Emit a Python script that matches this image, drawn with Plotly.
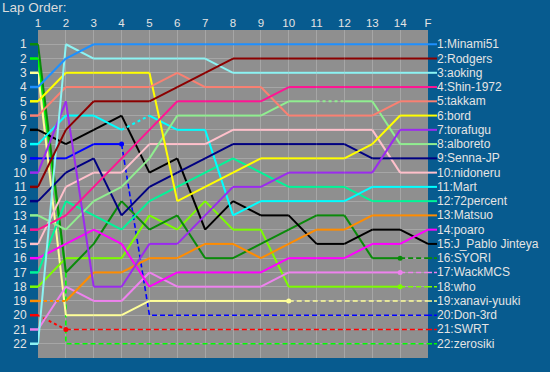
import plotly.graph_objects as go

# ---------------- data ----------------
lap_labels = ["1", "2", "3", "4", "5", "6", "7", "8", "9", "10", "11", "12", "13", "14", "F"]
grid_labels = ["1", "2", "3", "4", "5", "6", "7", "8", "9", "10", "11",
               "12", "13", "14", "15", "16", "17", "18", "19", "20", "21", "22"]

names = ["Minami51", "Rodgers", "aoking", "Shin-1972", "takkam", "bord", "torafugu",
         "alboreto", "Senna-JP", "nidoneru", "Mart", "72percent", "Matsuo", "poaro",
         "J_Pablo Jinteya", "SYORI", "WackMCS", "who", "xanavi-yuuki", "Don-3rd",
         "SWRT", "zerosiki"]

colors = ["#1E90FF", "#8B0000", "#8CF3F3", "#FF1493", "#FA8072", "#FFFF00", "#9B2BEE",
          "#90EE90", "#000080", "#FFC0CB", "#00FFFF", "#00F598", "#FF8C00", "#FF00FF",
          "#000000", "#0A8A0A", "#EE82EE", "#7CFC00", "#FFFF99", "#0000FF",
          "#FF0000", "#00FF00"]

# positions at laps 1..14, F
minami51 = [4, 2, 1, 1, 1, 1, 1, 1, 1, 1, 1, 1, 1, 1, 1]
rodgers = [11, 7, 5, 5, 5, 4, 3, 2, 2, 2, 2, 2, 2, 2, 2]
aoking = [22, 1, 2, 2, 2, 2, 2, 3, 3, 3, 3, 3, 3, 3, 3]
shin1972 = [14, 13, 11, 9, 7, 5, 5, 5, 5, 4, 4, 4, 4, 4, 4]
takkam = [6, 4, 4, 4, 4, 3, 4, 4, 4, 6, 6, 6, 6, 5, 5]
bord = [5, 3, 3, 3, 3, 12, 11, 10, 9, 9, 9, 9, 8, 6, 6]
torafugu = [10, 5, 18, 18, 15, 15, 13, 11, 11, 10, 10, 10, 10, 7, 7]
alboreto = [13, 14, 12, 11, 9, 6, 6, 6, 6, 5, 5, 5, 5, 8, 8]
senna_jp = [12, 10, 9, 13, 11, 10, 9, 8, 8, 8, 8, 8, 9, 9, 9]
nidoneru = [15, 11, 10, 10, 8, 8, 8, 7, 7, 7, 7, 7, 7, 10, 10]
mart = [8, 6, 6, 7, 6, 7, 7, 13, 12, 12, 12, 12, 11, 11, 11]
percent72 = [17, 12, 13, 14, 12, 11, 10, 9, 10, 11, 11, 11, 12, 12, 12]
matsuo = [19, 19, 17, 17, 16, 16, 15, 15, 16, 15, 14, 14, 13, 13, 13]
poaro = [16, 15, 14, 15, 18, 17, 17, 17, 17, 16, 16, 16, 15, 15, 14]
j_pablo = [7, 8, 7, 6, 10, 9, 14, 12, 13, 13, 15, 15, 14, 14, 15]
syori = [1, 17, 15, 12, 14, 13, 16, 16, 15, 14, 13, 13, 16, 16, 16]
wackmcs = [21, 18, 19, 19, 17, 18, 18, 18, 18, 17, 17, 17, 17, 17, 17]
who = [18, 16, 16, 16, 13, 14, 12, 14, 14, 18, 18, 18, 18, 18, 18]
xanavi = [3, 20, 20, 20, 19, 19, 19, 19, 19, 19, 19, 19, 19, 19, 19]
don3rd = [9, 9, 8, 8, 20, 20, 20, 20, 20, 20, 20, 20, 20, 20, 20]
swrt = [20, 21, 21, 21, 21, 21, 21, 21, 21, 21, 21, 21, 21, 21, 21]
zerosiki = [2, 17, 22, 22, 22, 22, 22, 22, 22, 22, 22, 22, 22, 22, 22]

positions = [minami51, rodgers, aoking, shin1972, takkam, bord, torafugu, alboreto,
             senna_jp, nidoneru, mart, percent72, matsuo, poaro, j_pablo, syori,
             wackmcs, who, xanavi, don3rd, swrt, zerosiki]

# index of last lap run (dashed afterwards)
retire_at = {"SYORI": 13, "WackMCS": 13, "who": 13, "xanavi-yuuki": 9,
             "Don-3rd": 3, "SWRT": 1, "zerosiki": 1}
# segments (start index) drawn dotted
dotted_segments = {"Matsuo": [0], "Mart": [3], "alboreto": [10], "SWRT": [0]}
# retirement shown as a vertical drop at the same lap
vertical_drop = ["zerosiki"]
no_marker = ["zerosiki"]

# ---------------- figure ----------------
BG = "#075B8F"
PLOT_BG = "#8F8F8F"
GRID = "#A6A6A6"
TXT = "#E4E4E4"
FONT = "Liberation Sans, Arial, sans-serif"

xs = list(range(1, len(lap_labels) + 1))
n_pos = len(grid_labels)
y_top, y_bot = 0, n_pos + 1
fig = go.Figure()

order = sorted(range(len(names)), key=lambda k: -positions[k][-1])
for k in order:
    nm, col, p = names[k], colors[k], positions[k]
    r = retire_at.get(nm, len(p) - 1)
    dots = dotted_segments.get(nm, [])
    sx, sy, dx, dy = [], [], [], []
    for i in range(len(p) - 1):
        if i >= r:
            continue
        if i in dots:
            dx += [xs[i], xs[i + 1], None]
            dy += [p[i], p[i + 1], None]
        else:
            sx += [xs[i], xs[i + 1], None]
            sy += [p[i], p[i + 1], None]
    if sx:
        fig.add_trace(go.Scatter(x=sx, y=sy, mode="lines", line=dict(color=col, width=2),
                                 hoverinfo="skip", showlegend=False))
    if dx:
        fig.add_trace(go.Scatter(x=dx, y=dy, mode="lines",
                                 line=dict(color=col, width=2, dash="3px,3px"),
                                 hoverinfo="skip", showlegend=False))
    if r < len(p) - 1:
        if nm in vertical_drop:
            ax = [xs[r], xs[r]] + xs[r + 1:]
            ay = [p[r], p[r + 1]] + p[r + 1:]
        else:
            ax = xs[r:]
            ay = p[r:]
        fig.add_trace(go.Scatter(x=ax, y=ay, mode="lines",
                                 line=dict(color=col, width=1.6, dash="5px,3px"),
                                 hoverinfo="skip", showlegend=False))
        if nm not in no_marker:
            fig.add_trace(go.Scatter(x=[xs[r]], y=[p[r]], mode="markers",
                                     marker=dict(color=col, size=5),
                                     hoverinfo="skip", showlegend=False, cliponaxis=False))

plot_w = 390.0
plot_h = 328.0
shapes, annos = [], []
for k, nm in enumerate(names):
    p = positions[k]
    col = colors[k]
    # start stub on the left
    ys = (y_bot - p[0]) / (y_bot - y_top)
    shapes.append(dict(type="line", xref="paper", yref="paper", x0=-8 / plot_w, x1=0,
                       y0=ys, y1=ys, line=dict(color=col, width=2.5)))
    # finish stub + label on the right
    yf = (y_bot - p[-1]) / (y_bot - y_top)
    retired = nm in retire_at
    shapes.append(dict(type="line", xref="paper", yref="paper", x0=1, x1=1 + 9 / plot_w,
                       y0=yf, y1=yf,
                       line=dict(color=col, width=2 if not retired else 1.6,
                                 dash="solid" if not retired else "4px,2px")))
    annos.append(dict(xref="paper", yref="paper", x=1 + 7 / plot_w, y=yf,
                      xanchor="left", yanchor="middle", showarrow=False,
                      text=f"{p[-1]}:{nm}", font=dict(color=TXT, size=12, family=FONT)))

annos.append(dict(xref="paper", yref="paper", x=-37 / plot_w, y=1 + 22.5 / plot_h,
                  xanchor="left", yanchor="middle", showarrow=False, text="Lap Order:",
                  borderpad=0,
                  font=dict(color="#DCDCDC", size=13.5, family=FONT)))

fig.update_layout(
    width=550, height=372,
    margin=dict(l=38, r=122, t=30, b=14),
    paper_bgcolor=BG, plot_bgcolor=PLOT_BG,
    shapes=shapes, annotations=annos,
    showlegend=False,
    xaxis=dict(range=[1, len(lap_labels)], side="top", tickvals=xs, ticktext=lap_labels,
               showgrid=True, gridcolor=GRID, gridwidth=1, zeroline=False, showline=False,
               ticks="", tickfont=dict(color=TXT, size=11.5, family=FONT), fixedrange=True,
               automargin=False),
    yaxis=dict(range=[y_bot, y_top], tickvals=list(range(1, n_pos + 1)), ticktext=grid_labels,
               showgrid=True, gridcolor=GRID, gridwidth=1, zeroline=False, showline=False,
               ticks="outside", ticklen=8, tickcolor="rgba(0,0,0,0)",
               tickfont=dict(color=TXT, size=12, family=FONT), fixedrange=True,
               automargin=False),
)

fig.write_html("out.html", config={"displayModeBar": False},
               post_script="document.body.style.margin='0';document.body.style.background='" + BG + "';")
